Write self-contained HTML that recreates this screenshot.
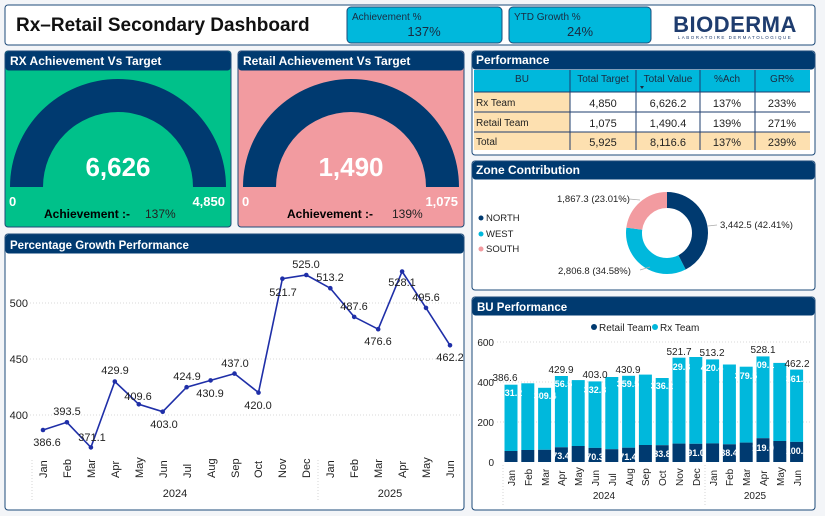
<!DOCTYPE html>
<html><head><meta charset="utf-8"><style>
body{margin:0;background:#f3f5f8;}
svg{display:block;font-family:"Liberation Sans","DejaVu Sans",sans-serif;}
</style></head><body>
<svg width="825" height="516" viewBox="0 0 825 516" xmlns="http://www.w3.org/2000/svg">
<rect width="825" height="516" fill="#f3f5f8"/>
<rect x="5" y="5" width="810" height="40" rx="3" fill="#fff" stroke="#1e4b7a" stroke-width="1"/>
<text x="16" y="31" font-size="19" font-weight="bold" fill="#111">Rx–Retail Secondary Dashboard</text>
<rect x="347" y="7" width="155" height="36" rx="4" fill="#00b8dc" stroke="#1e4b7a"/>
<text x="352" y="20" font-size="10" fill="#1a2a40">Achievement %</text>
<text x="424" y="36" font-size="13" fill="#1a2a40" text-anchor="middle">137%</text>
<rect x="509" y="7" width="142" height="36" rx="4" fill="#00b8dc" stroke="#1e4b7a"/>
<text x="514" y="20" font-size="10" fill="#1a2a40">YTD Growth %</text>
<text x="580" y="36" font-size="13" fill="#1a2a40" text-anchor="middle">24%</text>
<text x="735" y="32" font-size="22" font-weight="bold" fill="#1e3c6e" text-anchor="middle" letter-spacing="0.5">BIODERMA</text>
<text x="735" y="39" font-size="4.5" fill="#1e3c6e" text-anchor="middle" letter-spacing="1.5">LABORATOIRE DERMATOLOGIQUE</text>

<rect x="5" y="51" width="226" height="176" rx="3" fill="#00c18a" stroke="#1e4b7a"/>
<rect x="5.5" y="51.5" width="225" height="19" rx="3" fill="#003a70"/>
<text x="10" y="65" font-size="12" font-weight="bold" fill="#fff">RX Achievement Vs Target</text>
<path d="M10 187 A108 108 0 0 1 226 187 L193 187 A75 75 0 0 0 43 187 Z" fill="#003a70"/>
<text x="118" y="176" font-size="26" font-weight="bold" fill="#fff" text-anchor="middle">6,626</text>
<text x="9" y="206" font-size="13" font-weight="bold" fill="#fff">0</text>
<text x="225" y="206" font-size="13" font-weight="bold" fill="#fff" text-anchor="end">4,850</text>
<text x="44" y="218" font-size="12" font-weight="bold" fill="#000">Achievement :-</text>
<text x="145" y="218" font-size="12" fill="#222">137%</text>

<rect x="238" y="51" width="226" height="176" rx="3" fill="#f29ba0" stroke="#1e4b7a"/>
<rect x="238.5" y="51.5" width="225" height="19" rx="3" fill="#003a70"/>
<text x="243" y="65" font-size="12" font-weight="bold" fill="#fff">Retail Achievement Vs Target</text>
<path d="M243 187 A108 108 0 0 1 459 187 L426 187 A75 75 0 0 0 276 187 Z" fill="#003a70"/>
<text x="351" y="176" font-size="26" font-weight="bold" fill="#fff" text-anchor="middle">1,490</text>
<text x="242" y="206" font-size="13" font-weight="bold" fill="#fff">0</text>
<text x="458" y="206" font-size="13" font-weight="bold" fill="#fff" text-anchor="end">1,075</text>
<text x="287" y="218" font-size="12" font-weight="bold" fill="#000">Achievement :-</text>
<text x="392" y="218" font-size="12" fill="#222">139%</text>

<rect x="472" y="51" width="343" height="104" rx="3" fill="#fff" stroke="#1e4b7a"/>
<rect x="472.5" y="51.5" width="342" height="18" rx="3" fill="#003a70"/>
<text x="476" y="64" font-size="12" font-weight="bold" fill="#fff">Performance</text>
<rect x="474" y="70" width="336" height="22" fill="#00b8dc"/>
<rect x="474" y="92" width="96" height="58" fill="#fde0b0"/>
<rect x="474" y="132" width="336" height="18" fill="#fde0b0"/>
<g stroke="#1e3c6e" stroke-width="1">
<line x1="570" y1="70" x2="570" y2="150"/><line x1="636" y1="70" x2="636" y2="150"/>
<line x1="700" y1="70" x2="700" y2="150"/><line x1="755" y1="70" x2="755" y2="150"/>
<line x1="474" y1="92" x2="810" y2="92"/><line x1="474" y1="112" x2="810" y2="112"/><line x1="474" y1="132" x2="810" y2="132"/>
</g>
<g font-size="10" fill="#1a2a40" text-anchor="middle">
<text x="522" y="82">BU</text><text x="603" y="82">Total Target</text><text x="668" y="82">Total Value</text><text x="727" y="82">%Ach</text><text x="782" y="82">GR%</text>
</g>
<path d="M640 86 l4 0 l-2 3z" fill="#1a2a40"/>
<g font-size="10" fill="#222">
<text x="476" y="106">Rx Team</text><text x="476" y="126">Retail Team</text><text x="476" y="145">Total</text>
</g>
<g font-size="11" fill="#222" text-anchor="middle">
<text x="603" y="107">4,850</text><text x="668" y="107">6,626.2</text><text x="727" y="107">137%</text><text x="782" y="107">233%</text>
<text x="603" y="127">1,075</text><text x="668" y="127">1,490.4</text><text x="727" y="127">139%</text><text x="782" y="127">271%</text>
<text x="603" y="146">5,925</text><text x="668" y="146">8,116.6</text><text x="727" y="146">137%</text><text x="782" y="146">239%</text>
</g>

<rect x="472" y="161" width="343" height="129" rx="3" fill="#fff" stroke="#1e4b7a"/>
<rect x="472.5" y="161.5" width="342" height="18" rx="3" fill="#003a70"/>
<text x="476" y="174" font-size="12" font-weight="bold" fill="#fff">Zone Contribution</text>
<circle cx="667" cy="233" r="33" fill="none" stroke="#003a70" stroke-width="16" stroke-dasharray="87.93 207.35" transform="rotate(-90 667 233)"/>
<circle cx="667" cy="233" r="33" fill="none" stroke="#00b8dc" stroke-width="16" stroke-dasharray="0 87.93 71.7 207.35" transform="rotate(-90 667 233)"/>
<circle cx="667" cy="233" r="33" fill="none" stroke="#f29ba0" stroke-width="16" stroke-dasharray="0 159.63 47.72 207.35" transform="rotate(-90 667 233)"/>
<g font-size="9.5" fill="#222">
<text x="557" y="202">1,867.3 (23.01%)</text>
<text x="720" y="228">3,442.5 (42.41%)</text>
<text x="558" y="274">2,806.8 (34.58%)</text>
<circle cx="481" cy="218" r="2.5" fill="#003a70"/><text x="486" y="221">NORTH</text>
<circle cx="481" cy="234" r="2.5" fill="#00b8dc"/><text x="486" y="237">WEST</text>
<circle cx="481" cy="249" r="2.5" fill="#f29ba0"/><text x="486" y="252">SOUTH</text>
</g>
<g stroke="#aaa" stroke-width="0.7" fill="none"><path d="M629 199 L640 200"/><path d="M708 226 L717 225"/><path d="M640 270 L650 267"/></g>

<rect x="5" y="234" width="459" height="276" rx="3" fill="#fff" stroke="#1e4b7a"/>
<rect x="5.5" y="234.5" width="458" height="19" rx="3" fill="#003a70"/>
<text x="10" y="249" font-size="11.5" font-weight="bold" fill="#fff">Percentage Growth Performance</text>
<g stroke="#ccc" stroke-dasharray="1 2" stroke-width="0.8">
<line x1="30" y1="303" x2="460" y2="303"/><line x1="30" y1="359" x2="460" y2="359"/><line x1="30" y1="415" x2="460" y2="415"/>
<line x1="32" y1="460" x2="32" y2="502"/><line x1="318" y1="460" x2="318" y2="502"/>
</g>
<g font-size="11" fill="#222" text-anchor="end"><text x="28" y="307">500</text><text x="28" y="363">450</text><text x="28" y="419">400</text></g>
<polyline fill="none" stroke="#1f2fa8" stroke-width="1.6" points="43,430 66.9,422.3 90.9,447.4 114.8,381.5 138.8,404.3 162.7,411.7 186.6,387.2 210.6,380.4 234.5,373.6 258.5,392.6 282.4,278.7 306.3,275 330.3,288.2 354.2,316.9 378.2,329.2 402.1,271.5 426,307.9 450,345.3"/>
<g fill="#1f2fa8">
<circle cx="43" cy="430" r="2.3"/><circle cx="66.9" cy="422.3" r="2.3"/><circle cx="90.9" cy="447.4" r="2.3"/><circle cx="114.8" cy="381.5" r="2.3"/><circle cx="138.8" cy="404.3" r="2.3"/><circle cx="162.7" cy="411.7" r="2.3"/><circle cx="186.6" cy="387.2" r="2.3"/><circle cx="210.6" cy="380.4" r="2.3"/><circle cx="234.5" cy="373.6" r="2.3"/><circle cx="258.5" cy="392.6" r="2.3"/><circle cx="282.4" cy="278.7" r="2.3"/><circle cx="306.3" cy="275" r="2.3"/><circle cx="330.3" cy="288.2" r="2.3"/><circle cx="354.2" cy="316.9" r="2.3"/><circle cx="378.2" cy="329.2" r="2.3"/><circle cx="402.1" cy="271.5" r="2.3"/><circle cx="426" cy="307.9" r="2.3"/><circle cx="450" cy="345.3" r="2.3"/>
</g>
<g font-size="11" fill="#222" text-anchor="middle">
<text x="47" y="446">386.6</text><text x="67" y="415">393.5</text><text x="92" y="441">371.1</text><text x="115" y="374">429.9</text><text x="138" y="400">409.6</text><text x="164" y="428">403.0</text><text x="187" y="380">424.9</text><text x="210" y="397">430.9</text><text x="235" y="367">437.0</text><text x="258" y="409">420.0</text><text x="283" y="296">521.7</text><text x="306" y="268">525.0</text><text x="330" y="281">513.2</text><text x="354" y="310">487.6</text><text x="378" y="345">476.6</text><text x="402" y="286">528.1</text><text x="426" y="301">495.6</text><text x="450" y="361">462.2</text>
</g>
<g font-size="11" fill="#222">
<text transform="translate(47,478) rotate(-90)">Jan</text><text transform="translate(71,478) rotate(-90)">Feb</text><text transform="translate(95,478) rotate(-90)">Mar</text><text transform="translate(119,478) rotate(-90)">Apr</text><text transform="translate(143,478) rotate(-90)">May</text><text transform="translate(167,478) rotate(-90)">Jun</text><text transform="translate(191,478) rotate(-90)">Jul</text><text transform="translate(215,478) rotate(-90)">Aug</text><text transform="translate(239,478) rotate(-90)">Sep</text><text transform="translate(262,478) rotate(-90)">Oct</text><text transform="translate(286,478) rotate(-90)">Nov</text><text transform="translate(310,478) rotate(-90)">Dec</text><text transform="translate(334,478) rotate(-90)">Jan</text><text transform="translate(358,478) rotate(-90)">Feb</text><text transform="translate(382,478) rotate(-90)">Mar</text><text transform="translate(406,478) rotate(-90)">Apr</text><text transform="translate(430,478) rotate(-90)">May</text><text transform="translate(454,478) rotate(-90)">Jun</text>
</g>
<g font-size="11" fill="#222" text-anchor="middle"><text x="175" y="497">2024</text><text x="390" y="497">2025</text></g>

<rect x="472" y="297" width="343" height="213" rx="3" fill="#fff" stroke="#1e4b7a"/>
<rect x="472.5" y="297.5" width="342" height="18" rx="3" fill="#003a70"/>
<text x="477" y="311" font-size="11.5" font-weight="bold" fill="#fff">BU Performance</text>
<g font-size="10" fill="#222"><circle cx="594" cy="327" r="3" fill="#003a70"/><text x="599" y="331">Retail Team</text><circle cx="655" cy="327" r="3" fill="#00b8dc"/><text x="660" y="331">Rx Team</text></g>
<g stroke="#ccc" stroke-dasharray="1 2" stroke-width="0.8">
<line x1="497" y1="342" x2="810" y2="342"/><line x1="497" y1="382" x2="810" y2="382"/><line x1="497" y1="422" x2="810" y2="422"/>
<line x1="503" y1="465" x2="503" y2="505"/><line x1="705" y1="465" x2="705" y2="505"/>
</g>
<g font-size="10" fill="#222" text-anchor="end"><text x="494" y="346">600</text><text x="494" y="386">400</text><text x="494" y="426">200</text><text x="494" y="466">0</text></g>
<g font-size="10" fill="#222">
<text transform="translate(515,486) rotate(-90)">Jan</text><text transform="translate(532,486) rotate(-90)">Feb</text><text transform="translate(549,486) rotate(-90)">Mar</text><text transform="translate(565,486) rotate(-90)">Apr</text><text transform="translate(582,486) rotate(-90)">May</text><text transform="translate(599,486) rotate(-90)">Jun</text><text transform="translate(616,486) rotate(-90)">Jul</text><text transform="translate(633,486) rotate(-90)">Aug</text><text transform="translate(649,486) rotate(-90)">Sep</text><text transform="translate(666,486) rotate(-90)">Oct</text><text transform="translate(683,486) rotate(-90)">Nov</text><text transform="translate(700,486) rotate(-90)">Dec</text><text transform="translate(717,486) rotate(-90)">Jan</text><text transform="translate(733,486) rotate(-90)">Feb</text><text transform="translate(750,486) rotate(-90)">Mar</text><text transform="translate(767,486) rotate(-90)">Apr</text><text transform="translate(784,486) rotate(-90)">May</text><text transform="translate(801,486) rotate(-90)">Jun</text>
</g>
<g font-size="10" fill="#222" text-anchor="middle"><text x="604" y="499">2024</text><text x="755" y="499">2025</text></g>
<g>
<rect x="504.5" y="384.7" width="13" height="66.3" fill="#00b8dc"/><rect x="504.5" y="451" width="13" height="11" fill="#003a70"/>
<rect x="521.3" y="383.3" width="13" height="66.7" fill="#00b8dc"/><rect x="521.3" y="450" width="13" height="12" fill="#003a70"/>
<rect x="538.1" y="387.8" width="13" height="62" fill="#00b8dc"/><rect x="538.1" y="449.8" width="13" height="12.2" fill="#003a70"/>
<rect x="554.9" y="376" width="13" height="71.3" fill="#00b8dc"/><rect x="554.9" y="447.3" width="13" height="14.7" fill="#003a70"/>
<rect x="571.7" y="380.1" width="13" height="65.9" fill="#00b8dc"/><rect x="571.7" y="446" width="13" height="16" fill="#003a70"/>
<rect x="588.5" y="381.4" width="13" height="66.5" fill="#00b8dc"/><rect x="588.5" y="447.9" width="13" height="14.1" fill="#003a70"/>
<rect x="605.3" y="377" width="13" height="72.2" fill="#00b8dc"/><rect x="605.3" y="449.2" width="13" height="12.8" fill="#003a70"/>
<rect x="622.1" y="375.8" width="13" height="71.9" fill="#00b8dc"/><rect x="622.1" y="447.7" width="13" height="14.3" fill="#003a70"/>
<rect x="638.9" y="374.6" width="13" height="70.4" fill="#00b8dc"/><rect x="638.9" y="445" width="13" height="17" fill="#003a70"/>
<rect x="655.7" y="378" width="13" height="67.2" fill="#00b8dc"/><rect x="655.7" y="445.2" width="13" height="16.8" fill="#003a70"/>
<rect x="672.5" y="357.7" width="13" height="85.9" fill="#00b8dc"/><rect x="672.5" y="443.6" width="13" height="18.4" fill="#003a70"/>
<rect x="689.3" y="357" width="13" height="86.8" fill="#00b8dc"/><rect x="689.3" y="443.8" width="13" height="18.2" fill="#003a70"/>
<rect x="706.1" y="359.4" width="13" height="84" fill="#00b8dc"/><rect x="706.1" y="443.4" width="13" height="18.6" fill="#003a70"/>
<rect x="722.9" y="364.5" width="13" height="79.8" fill="#00b8dc"/><rect x="722.9" y="444.3" width="13" height="17.7" fill="#003a70"/>
<rect x="739.7" y="366.7" width="13" height="75.9" fill="#00b8dc"/><rect x="739.7" y="442.6" width="13" height="19.4" fill="#003a70"/>
<rect x="756.5" y="356.4" width="13" height="81.8" fill="#00b8dc"/><rect x="756.5" y="438.2" width="13" height="23.8" fill="#003a70"/>
<rect x="773.3" y="362.9" width="13" height="78.1" fill="#00b8dc"/><rect x="773.3" y="441" width="13" height="21" fill="#003a70"/>
<rect x="790.1" y="369.6" width="13" height="72.3" fill="#00b8dc"/><rect x="790.1" y="441.9" width="13" height="20.1" fill="#003a70"/>
</g>
<g font-size="10" fill="#222" text-anchor="middle">
<text x="505" y="381">386.6</text><text x="561" y="373">429.9</text><text x="595" y="378">403.0</text><text x="628" y="373">430.9</text><text x="679" y="355">521.7</text><text x="712" y="356">513.2</text><text x="763" y="353">528.1</text><text x="797" y="367">462.2</text>
</g>
<g font-size="9" font-weight="bold" fill="#fff" text-anchor="middle">
<text x="511" y="396">331.2</text><text x="545" y="399">309.4</text><text x="561" y="387">356.5</text><text x="595" y="393">332.8</text><text x="628" y="387">359.5</text><text x="662" y="389">336.2</text><text x="679" y="370">429.8</text><text x="712" y="371">420.4</text><text x="746" y="379">379.5</text><text x="763" y="368">409.1</text><text x="797" y="382">361.9</text>
<text x="561" y="459">73.4</text><text x="595" y="460">70.3</text><text x="628" y="460">71.4</text><text x="662" y="457">83.8</text><text x="696" y="456">91.0</text><text x="729" y="456">88.4</text><text x="763" y="451">119.0</text><text x="797" y="454">100.3</text>
</g>
</svg>
</body></html>
